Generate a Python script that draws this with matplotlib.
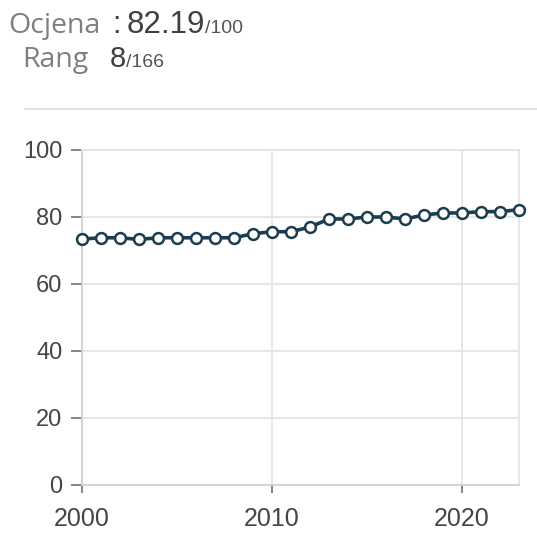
import numpy as np
import matplotlib
matplotlib.use("Agg")
import matplotlib.pyplot as plt

# data
years = list(range(2000, 2024))
scores = [73.4, 73.8, 73.8, 73.3, 73.8, 73.8, 73.8, 73.8, 73.8, 75.0,
          75.6, 75.6, 77.0, 79.4, 79.4, 80.0, 80.0, 79.4, 80.6, 81.2,
          81.2, 81.6, 81.6, 82.19]
score_label = "82.19"
score_max = "/100"
rank_label = "8"
rank_total = "/166"
yticks = [0, 20, 40, 60, 80, 100]
xticks = [2000, 2010, 2020]

line_color = "#1c3d4f"
grid_color = "#e3e3e3"
tick_color = "#454545"
num_font = ["Liberation Sans", "DejaVu Sans"]
word_font = ["Open Sans", "DejaVu Sans"]

fig = plt.figure(figsize=(5.37, 5.33), dpi=100)
ax = fig.add_axes([0.1527, 0.0901, 0.8138, 0.6285])

ax.plot(years, scores, color=line_color, lw=2.6, marker="o", markersize=7.8,
        markerfacecolor="white", markeredgecolor=line_color, markeredgewidth=1.8,
        clip_on=False, zorder=3)

ax.set_xlim(2000, 2023)
ax.set_ylim(0, 100)
ax.set_xticks(xticks)
ax.set_yticks(yticks)
ax.grid(True, color=grid_color, lw=1.2)
ax.set_axisbelow(True)

for side in ["top", "right"]:
    ax.spines[side].set_color(grid_color)
    ax.spines[side].set_linewidth(1.2)
for side in ["left", "bottom"]:
    ax.spines[side].set_color("#d0d0d0")
    ax.spines[side].set_linewidth(1.2)

ax.tick_params(axis="y", length=8, width=1.2, color="#707070", pad=6,
               labelsize=17, labelcolor=tick_color)
ax.tick_params(axis="x", length=6, width=1.2, color="#707070", pad=10,
               labelsize=18, labelcolor=tick_color)
for lab in ax.get_xticklabels() + ax.get_yticklabels():
    lab.set_family(num_font)

# header, placed in pixel coordinates
W, H = 537, 533
def fx(px):
    return px / W
def fy(py):
    return 1 - py / H

fig.text(fx(8), fy(33), "Ocjena", fontsize=20.5, color="#7f7f7f",
         family=word_font, va="baseline")
fig.text(fx(112), fy(33), ":", fontsize=22, color="#404040",
         family=num_font, va="baseline")
fig.text(fx(127), fy(33), score_label, fontsize=22.5, color="#404040",
         family=num_font, va="baseline")
fig.text(fx(205), fy(33), score_max, fontsize=14, color="#555555",
         family=num_font, va="baseline")

fig.text(fx(22), fy(67), "Rang", fontsize=20.5, color="#7f7f7f",
         family=word_font, va="baseline")
fig.text(fx(110), fy(67), rank_label, fontsize=21, color="#404040",
         family=num_font, va="baseline")
fig.text(fx(126), fy(67), rank_total, fontsize=14, color="#555555",
         family=num_font, va="baseline")

# separator line under header
fig.add_artist(plt.Line2D([fx(25), 1.0], [fy(109), fy(109)], color="#dddddd", lw=1.2))

fig.savefig("out.png", dpi=100)
